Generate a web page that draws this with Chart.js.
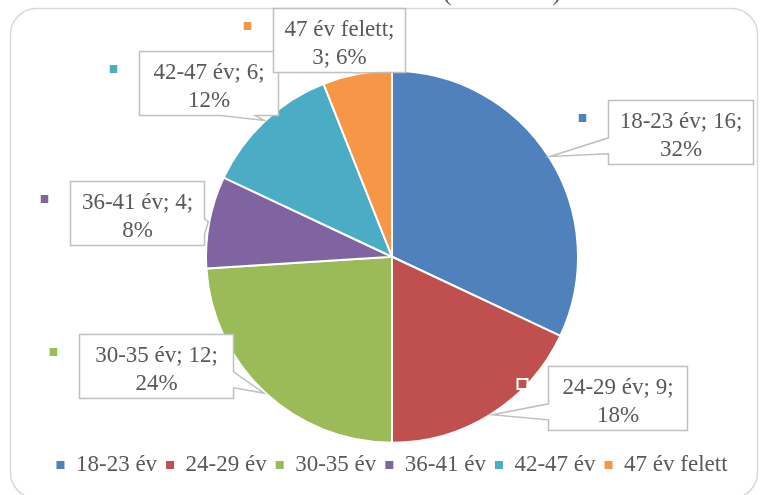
<!DOCTYPE html>
<html><head><meta charset="utf-8">
<script src="https://cdn.jsdelivr.net/npm/chart.js@4/dist/chart.umd.min.js"></script>
<style>html,body{margin:0;padding:0;background:#fff;}canvas{display:block}</style>
</head><body>
<canvas id="c" width="760" height="495"></canvas>
<script>
// ---- data ----
const categories = ['18-23 év', '24-29 év', '30-35 év', '36-41 év', '42-47 év', '47 év felett'];
const counts = [16, 9, 12, 4, 6, 3];
const percents = [32, 18, 24, 8, 12, 6];
const titleText = '(N = 50 fő)';

// ---- styles / layout ----
const colors = ['#4f81bd', '#c0504d', '#9bbb59', '#8064a2', '#4bacc6', '#f79646'];
const textColor = '#595959';
const fontFamily = '"Liberation Serif", "Times New Roman", serif';
const fontSize = 23;
// label box centres relative to pie centre, in units of the pie radius
const labelOffsets = [[1.551, -0.672], [1.212, 0.758], [-1.269, 0.586], [-1.371, -0.237], [-0.987, -0.933], [-0.285, -1.164]];
const labelBoxW = [145, 139, 154, 134, 139, 132];
const labelBoxH = 64;

const framePlugin = {
  id: 'frame',
  beforeDraw(chart) {
    const ctx = chart.ctx;
    ctx.save();
    ctx.strokeStyle = '#d9d9d9';
    ctx.lineWidth = 1.5;
    ctx.beginPath();
    ctx.roundRect(10.5, 8.5, 747, 490, 26);
    ctx.stroke();
    // title (cut off at the top of the picture)
    ctx.font = '26px ' + fontFamily;
    ctx.fillStyle = textColor;
    ctx.textAlign = 'center';
    ctx.textBaseline = 'alphabetic';
    ctx.fillText(titleText, 502, 0);
    ctx.restore();
  }
};

function wrapText(ctx, text, maxW) {
  const words = text.split(' ');
  const lines = [];
  let cur = '';
  words.forEach(w => {
    const t = cur ? cur + ' ' + w : w;
    if (cur && ctx.measureText(t).width > maxW) { lines.push(cur); cur = w; }
    else cur = t;
  });
  if (cur) lines.push(cur);
  return lines;
}

const calloutPlugin = {
  id: 'callouts',
  afterDatasetsDraw(chart) {
    const ctx = chart.ctx;
    const meta = chart.getDatasetMeta(0);
    ctx.save();
    ctx.font = fontSize + 'px ' + fontFamily;
    meta.data.forEach((arc, i) => {
      const p = arc.getProps(['x', 'y', 'startAngle', 'endAngle', 'outerRadius'], true);
      const r = p.outerRadius + 1;
      const mid = (p.startAngle + p.endAngle) / 2;
      const tx = p.x + Math.cos(mid) * r, ty = p.y + Math.sin(mid) * r;
      const w = labelBoxW[i], h = labelBoxH;
      const bcx = p.x + labelOffsets[i][0] * p.outerRadius;
      const bcy = p.y + labelOffsets[i][1] * p.outerRadius;
      const L = Math.round(bcx - w / 2) + 0.5, T = Math.round(bcy - h / 2) + 0.5;
      const dx = tx - (L + w / 2), dy = ty - (T + h / 2);
      const inside = Math.abs(dx) <= w / 2 && Math.abs(dy) <= h / 2;
      const dz = Math.abs(dy) - Math.abs(dx * h / w);
      let side = null;
      if (!inside) side = dz > 0 ? (dy < 0 ? 'top' : 'bottom') : (dx < 0 ? 'left' : 'right');
      const x1 = w * (dx > 0 ? 7 : 2) / 12, x2 = w * (dx > 0 ? 10 : 5) / 12;
      const y1 = h * (dy > 0 ? 7 : 2) / 12, y2 = h * (dy > 0 ? 10 : 5) / 12;
      const pts = [[L, T]];
      if (side === 'top') pts.push([L + x1, T], [tx, ty], [L + x2, T]);
      pts.push([L + w, T]);
      if (side === 'right') pts.push([L + w, T + y1], [tx, ty], [L + w, T + y2]);
      pts.push([L + w, T + h]);
      if (side === 'bottom') pts.push([L + x2, T + h], [tx, ty], [L + x1, T + h]);
      pts.push([L, T + h]);
      if (side === 'left') pts.push([L, T + y2], [tx, ty], [L, T + y1]);
      ctx.beginPath();
      pts.forEach((q, k) => k ? ctx.lineTo(q[0], q[1]) : ctx.moveTo(q[0], q[1]));
      ctx.closePath();
      ctx.fillStyle = '#ffffff';
      ctx.fill();
      ctx.strokeStyle = '#bfbfbf';
      ctx.lineWidth = 1.5;
      ctx.lineJoin = 'miter';
      ctx.stroke();
      // text
      const label = categories[i] + '; ' + counts[i] + '; ' + percents[i] + '%';
      const lines = wrapText(ctx, label, w - 16);
      ctx.fillStyle = textColor;
      ctx.textAlign = 'center';
      ctx.textBaseline = 'alphabetic';
      lines.forEach((ln, k) => ctx.fillText(ln, L + w / 2, T + 27 + k * 28));
      // legend key
      const mx = L - 26, my = T + 17.5;
      ctx.fillStyle = colors[i];
      ctx.fillRect(mx - 4, my - 4, 8, 8);
      ctx.strokeStyle = '#ffffff';
      ctx.lineWidth = 2;
      ctx.strokeRect(mx - 5, my - 5, 10, 10);
    });
    ctx.restore();
  }
};

new Chart(document.getElementById('c'), {
  type: 'pie',
  data: {
    labels: categories,
    datasets: [{ data: counts, backgroundColor: colors, borderColor: '#ffffff', borderWidth: 2 }]
  },
  options: {
    responsive: false,
    animation: false,
    radius: 186,
    layout: { padding: { top: 69, bottom: 8.5, left: 24, right: 0 } },
    plugins: {
      tooltip: { enabled: false },
      legend: {
        position: 'bottom',
        labels: {
          font: { family: fontFamily, size: fontSize },
          color: textColor,
          boxWidth: 8,
          boxHeight: 8,
          padding: 9,
          generateLabels(chart) {
            const items = Chart.overrides.pie.plugins.legend.labels.generateLabels(chart);
            items.forEach(it => { it.lineWidth = 0; it.strokeStyle = 'rgba(0,0,0,0)'; it.fontColor = textColor; });
            return items;
          }
        }
      }
    }
  },
  plugins: [framePlugin, calloutPlugin]
});
</script>
</body></html>
